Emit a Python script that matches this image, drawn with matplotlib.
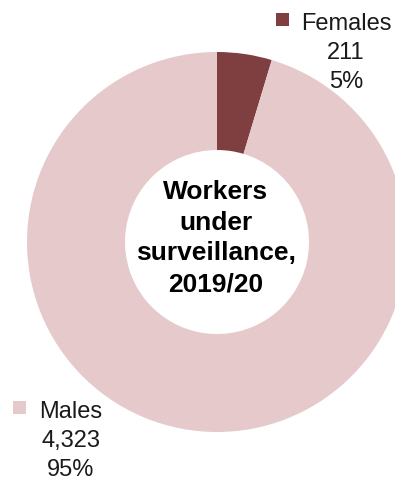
import matplotlib.pyplot as plt

plt.rcParams['font.family'] = ['Liberation Sans', 'DejaVu Sans']

W, H = 395, 481

groups = ['Females', 'Males']
workers = [211, 4323]
shares = ['5%', '95%']
colours = ['#7f3f41', '#e6c9ca']

fig = plt.figure(figsize=(W / 100, H / 100), dpi=100)
ax = fig.add_axes([0, 0, 1, 1])

# donut, drawn clockwise from 12 o'clock
ax.pie(workers, colors=colours, startangle=90, counterclock=False,
       center=(217, H - 243), radius=190,
       wedgeprops=dict(width=98, linewidth=0))

ax.set_xlim(0, W)
ax.set_ylim(0, H)
ax.set_aspect('auto')
ax.axis('off')

# centre title
title_lines = ['Workers', 'under', 'surveillance,', '2019/20']
for i, line in enumerate(title_lines):
    ax.text(216, H - (199 + i * 30.7), line, ha='center', va='baseline',
            fontsize=19, fontweight='bold', color='black')

# labels with legend-style squares
label_spots = [(346, 30, 282, 20), (71, 418, 19, 408)]
for (tx, ty, sx, sy), name, n, pct, c in zip(label_spots, groups, workers,
                                              shares, colours):
    lines = [name, f'{n:,}', pct]
    for i, line in enumerate(lines):
        ax.text(tx, H - (ty + i * 28.8), line, ha='center', va='baseline',
                fontsize=17, color='#1a1a1a')
    ax.add_patch(plt.Rectangle((sx - 6.5, H - sy - 6.5), 13, 13,
                               facecolor=c, edgecolor='none'))

fig.savefig('out.png', dpi=100)
